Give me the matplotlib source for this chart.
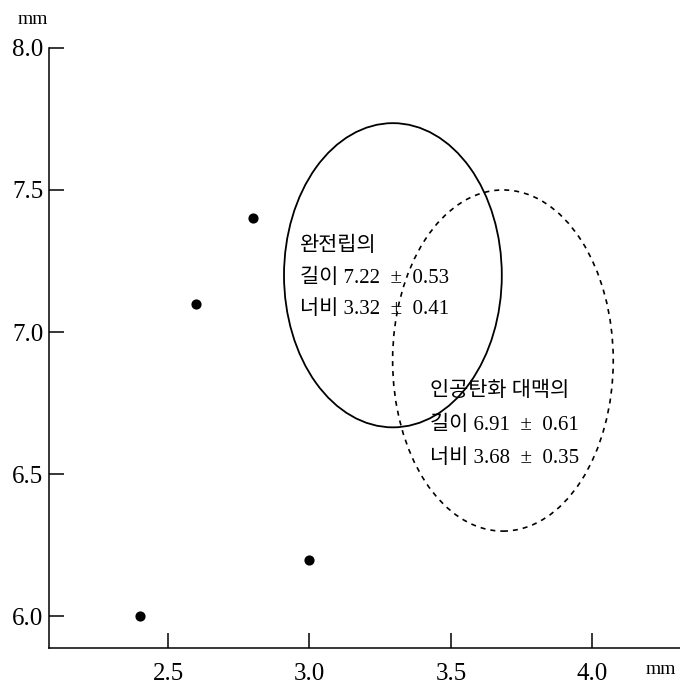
import matplotlib
matplotlib.use('Agg')
import matplotlib.pyplot as plt
from matplotlib.patches import Ellipse

plt.rcParams['font.family'] = ['Liberation Serif', 'Noto Sans CJK KR']

# scatter points (width mm, length mm)
pt_x = [2.4, 2.6, 2.8, 3.0]
pt_y = [6.0, 7.1, 7.4, 6.2]

# ellipses: centre x, centre y, full width, full height
whole_c = (3.295, 7.20)
whole_wh = (0.77, 1.07)
carb_c = (3.684, 6.90)
carb_wh = (0.78, 1.20)

whole_txt = ["완전립의", "길이 7.22  ±  0.53", "너비 3.32  ±  0.41"]
carb_txt = ["인공탄화 대맥의", "길이 6.91  ±  0.61", "너비 3.68  ±  0.35"]

xticks = [2.5, 3.0, 3.5, 4.0]
yticks = [6.0, 6.5, 7.0, 7.5, 8.0]

fig = plt.figure(figsize=(6.8, 6.93), dpi=100)
ax = fig.add_axes([0.072, 0.065, 0.928, 0.866])

ax.scatter(pt_x, pt_y, s=40, color='black', zorder=3)

ax.add_patch(Ellipse(whole_c, whole_wh[0], whole_wh[1], fill=False,
                     edgecolor='black', lw=1.3))
ax.add_patch(Ellipse(carb_c, carb_wh[0], carb_wh[1], fill=False,
                     edgecolor='black', lw=1.2, linestyle=(0, (3, 3))))

for i, s in enumerate(whole_txt):
    ax.text(2.967, 7.30 - i * 0.11, s, fontsize=15, va='center', ha='left')
for i, s in enumerate(carb_txt):
    ax.text(3.426, 6.79 - i * 0.118, s, fontsize=15, va='center', ha='left')

ax.set_xlim(2.079, 4.31)
ax.set_ylim(5.889, 8.0)
ax.set_xticks(xticks)
ax.set_xticklabels([f"{v:.1f}" for v in xticks])
ax.set_yticks(yticks)
ax.set_yticklabels([f"{v:.1f}" for v in yticks])

ax.tick_params(axis='x', direction='in', length=11, width=1.1, pad=11, labelsize=18)
ax.tick_params(axis='y', direction='in', length=11, width=1.1, pad=4, labelsize=18)

for side in ['top', 'right']:
    ax.spines[side].set_visible(False)
for side in ['left', 'bottom']:
    ax.spines[side].set_linewidth(1.1)

fig.text(33 / 680, 1 - 19 / 693, "mm", fontsize=14, ha='center', va='center')
fig.text(676 / 680, 1 - 670 / 693, "mm", fontsize=14, ha='right', va='center')

plt.savefig("out.png", dpi=100)
